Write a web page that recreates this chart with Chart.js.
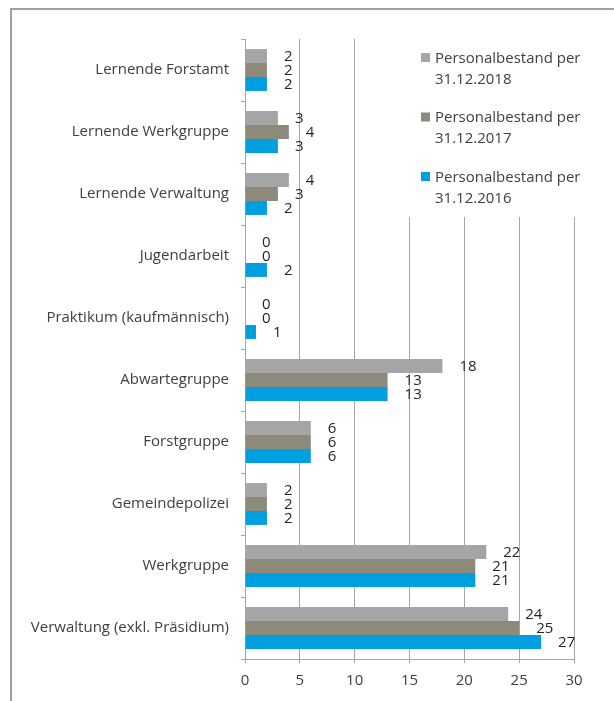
<!DOCTYPE html>
<html><head><meta charset="utf-8">
<script src="https://cdn.jsdelivr.net/npm/chart.js@4"></script>
<style>
html,body{margin:0;padding:0;background:#fff;overflow:hidden}
#wrap{position:relative;width:614px;height:701px}
#frame{position:absolute;left:10px;top:8px;width:700px;height:800px;border-left:2px solid #a0a0a0;border-top:2px solid #a0a0a0;box-sizing:border-box}
canvas{position:absolute;left:0;top:0}
</style></head><body>
<div id="wrap"><div id="frame"></div><canvas id="c" width="614" height="701"></canvas></div>
<script>
const categories = ['Lernende Forstamt','Lernende Werkgruppe','Lernende Verwaltung','Jugendarbeit','Praktikum (kaufmännisch)','Abwartegruppe','Forstgruppe','Gemeindepolizei','Werkgruppe','Verwaltung (exkl. Präsidium)'];
const series2018 = [2,3,4,0,0,18,6,2,22,24];
const series2017 = [2,4,3,0,0,13,6,2,21,25];
const series2016 = [2,3,2,2,1,13,6,2,21,27];
const seriesLabels = [['Personalbestand per','31.12.2018'],['Personalbestand per','31.12.2017'],['Personalbestand per','31.12.2016']];
const xTicks = [0,5,10,15,20,25,30];

const FONT = '"Open Sans", sans-serif';
const TEXT = '#404040';
const GRID = '#a6a6a6';

const valueLabels = {
  id:'valueLabels',
  afterDatasetsDraw(chart){
    const ctx = chart.ctx;
    ctx.save();
    ctx.font = '15px ' + FONT;
    ctx.fillStyle = '#262626';
    ctx.textAlign = 'left';
    ctx.textBaseline = 'middle';
    chart.data.datasets.forEach((ds,i)=>{
      chart.getDatasetMeta(i).data.forEach((el,j)=>{
        ctx.fillText(String(ds.data[j]), el.x + 17, el.y + 1);
      });
    });
    ctx.restore();
  }
};

const boxLegend = {
  id:'boxLegend',
  afterDraw(chart){
    const ctx = chart.ctx;
    ctx.save();
    ctx.fillStyle = '#fff';
    ctx.fillRect(398, 30, 200, 187);
    ctx.font = '15px ' + FONT;
    ctx.textAlign = 'left';
    ctx.textBaseline = 'middle';
    chart.data.datasets.forEach((ds,i)=>{
      const y0 = 57.5 + i*59.5;
      ctx.fillStyle = ds.backgroundColor;
      ctx.fillRect(421, y0-4.5, 9, 9);
      ctx.fillStyle = TEXT;
      const lines = seriesLabels[i];
      lines.forEach((t,k)=> ctx.fillText(t, 435, y0 + k*21 + 1));
    });
    ctx.restore();
  }
};

new Chart(document.getElementById('c'), {
  type:'bar',
  data:{
    labels: categories,
    datasets:[
      {label:seriesLabels[0].join(' '), data:series2018, backgroundColor:'#a5a5a5'},
      {label:seriesLabels[1].join(' '), data:series2017, backgroundColor:'#8e8a7b'},
      {label:seriesLabels[2].join(' '), data:series2016, backgroundColor:'#009fe0'}
    ]
  },
  options:{
    indexAxis:'y',
    responsive:false,
    animation:false,
    devicePixelRatio:1,
    layout:{padding:{left:0,top:39,right:40,bottom:0}},
    datasets:{bar:{categoryPercentage:0.675, barPercentage:1}},
    plugins:{legend:{display:false}, tooltip:{enabled:false}},
    scales:{
      x:{
        min:0, max:30,
        afterBuildTicks(s){ s.ticks = xTicks.map(v=>({value:v})); },
        afterFit(s){ s.height = 42; },
        grid:{color:GRID, lineWidth:1, tickLength:4, drawOnChartArea:true},
        border:{display:true, color:GRID},
        ticks:{font:{family:FONT, size:15}, color:TEXT, padding:9}
      },
      y:{
        afterFit(s){ s.width = 245; },
        grid:{display:true, drawOnChartArea:false, tickLength:4, color:GRID, offset:true},
        border:{display:true, color:GRID},
        ticks:{font:{family:FONT, size:15}, color:TEXT, padding:12}
      }
    }
  },
  plugins:[valueLabels, boxLegend]
});
</script>
</body></html>
